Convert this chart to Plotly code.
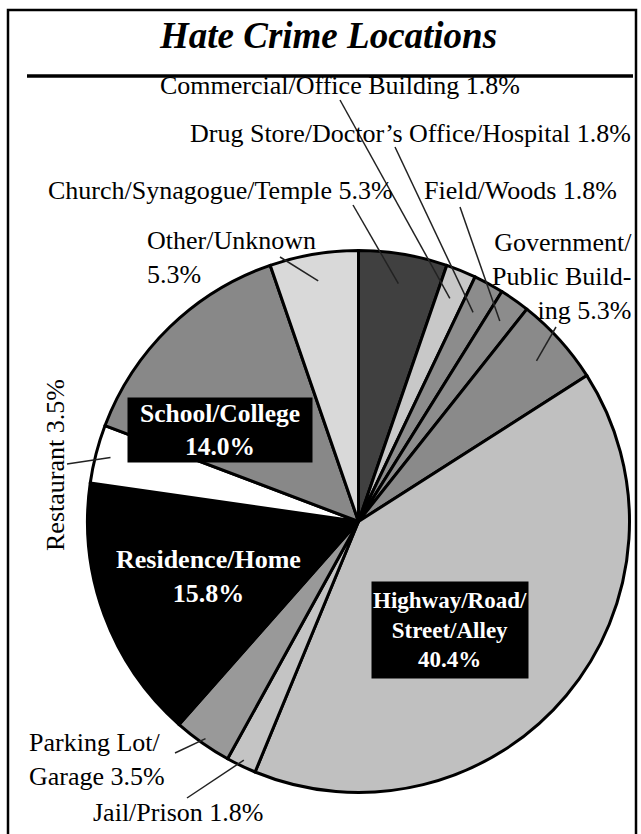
import math
import plotly.graph_objects as go

# ---------------- data ----------------
categories = [
    "Church/Synagogue/Temple",
    "Commercial/Office Building",
    "Drug Store/Doctor’s Office/Hospital",
    "Field/Woods",
    "Government/Public Building",
    "Highway/Road/Street/Alley",
    "Jail/Prison",
    "Parking Lot/Garage",
    "Residence/Home",
    "Restaurant",
    "School/College",
    "Other/Unknown",
]
percent = [5.3, 1.8, 1.8, 1.8, 5.3, 40.4, 1.8, 3.5, 15.8, 3.5, 14.0, 5.3]

# label text templates ({} is replaced with the value)
label_text = [
    "Church/Synagogue/Temple {}%",
    "Commercial/Office Building {}%",
    "Drug Store/Doctor’s Office/Hospital {}%",
    "Field/Woods {}%",
    "Government/<br>Public Build-<br>ing {}%",
    "Highway/Road/<br>Street/Alley<br>{}%",
    "Jail/Prison {}%",
    "Parking Lot/<br>Garage {}%",
    "Residence/Home<br>{}%",
    "Restaurant {}%",
    "School/College<br>{}%",
    "Other/Unknown<br>{}%",
]

title_text = "Hate Crime Locations"

# ---------------- styles / layout ----------------
slice_colors = ["#404040", "#c8c8c8", "#8c8c8c", "#8c8c8c", "#8a8a8a", "#c0c0c0",
                "#c4c4c4", "#999999", "#000000", "#ffffff", "#888888", "#d9d9d9"]

W, H = 641, 834
CX, CY, R = 358.5, 521.5, 271.0
SERIF = "Liberation Serif, Times New Roman, serif"


def px(x):
    return x / W


def py(y):
    return 1 - y / H


# per-label placement: x, y (pixels), xanchor, align, style, leader start, leader radius fraction
place = [
    dict(x=220, y=190, xa="center", al="center", st="plain", lead=(353, 205), rf=0.89),
    dict(x=340, y=85, xa="center", al="center", st="plain", lead=(340, 100), rf=0.89),
    dict(x=410, y=133, xa="center", al="center", st="plain", lead=(395, 147), rf=0.88),
    dict(x=520, y=190, xa="center", al="center", st="plain", lead=(460, 207), rf=0.905),
    dict(x=634, y=277, xa="right", al="right", st="plain", lead=(556, 327), rf=0.885),
    dict(x=450, y=630, xa="center", al="center", st="box", w=156, h=96, fs=23, lead=None),
    dict(x=178, y=812, xa="center", al="center", st="plain", lead=(187, 798), rf=0.977),
    dict(x=27, y=759, xa="left", al="left", st="plain", lead=(175, 753), rf=0.98),
    dict(x=208, y=576, xa="center", al="center", st="bold", fs=26, lead=None),
    dict(x=55, y=465, xa="center", al="center", st="vert", lead=(67, 464), rf=0.945),
    dict(x=220, y=430, xa="center", al="center", st="box", w=184, h=64, fs=25.5, lead=None),
    dict(x=145, y=257, xa="left", al="left", st="plain", lead=(280, 257), rf=0.90),
]

total = sum(percent)

fig = go.Figure(go.Pie(
    labels=categories,
    values=percent,
    sort=False,
    direction="clockwise",
    rotation=0,
    marker=dict(colors=slice_colors, line=dict(color="black", width=3)),
    textinfo="none",
    hoverinfo="label+value",
    showlegend=False,
    domain=dict(x=[px(CX - R), px(CX + R)], y=[py(CY + R), py(CY - R)]),
))

annotations = []
shapes = []

cum = 0.0
for name, v, tmpl, p in zip(categories, percent, label_text, place):
    mid = (cum + v / 2) / total * 2 * math.pi
    cum += v
    text = tmpl.format(f"{v:.1f}")
    if p["st"] == "plain":
        annotations.append(dict(
            x=px(p["x"]), y=py(p["y"]), xref="paper", yref="paper",
            text=text, showarrow=False, xanchor=p["xa"], yanchor="middle",
            align=p["al"], font=dict(family=SERIF, size=26, color="black")))
    elif p["st"] == "vert":
        annotations.append(dict(
            x=px(p["x"]), y=py(p["y"]), xref="paper", yref="paper",
            text=text, showarrow=False, textangle=-90, xanchor="center", yanchor="middle",
            font=dict(family=SERIF, size=26, color="black")))
    elif p["st"] == "bold":
        annotations.append(dict(
            x=px(p["x"]), y=py(p["y"]), xref="paper", yref="paper",
            text=f"<b>{text}</b>", showarrow=False, xanchor="center", yanchor="middle",
            align="center", font=dict(family=SERIF, size=p["fs"], color="white")))
    else:  # box
        annotations.append(dict(
            x=px(p["x"]), y=py(p["y"]), xref="paper", yref="paper",
            text=f"<b>{text}</b>", showarrow=False, xanchor="center", yanchor="middle",
            align="center", bgcolor="black", width=p["w"], height=p["h"], borderpad=0,
            font=dict(family=SERIF, size=p["fs"], color="white")))
    if p["lead"] is not None:
        r = R * p["rf"]
        ex = CX + r * math.sin(mid)
        ey = CY - r * math.cos(mid)
        sx, sy = p["lead"]
        shapes.append(dict(type="line", xref="paper", yref="paper",
                           x0=px(sx), y0=py(sy), x1=px(ex), y1=py(ey),
                           line=dict(color="#222222", width=1.5)))

# title
annotations.append(dict(
    x=px(328), y=py(36), xref="paper", yref="paper", showarrow=False,
    text=f"<b><i>{title_text}</i></b>", xanchor="center", yanchor="middle",
    font=dict(family=SERIF, size=37, color="black")))

# frame & title rule
shapes.append(dict(type="rect", xref="paper", yref="paper",
                   x0=px(8), x1=px(636), y0=py(840), y1=py(10),
                   line=dict(color="black", width=2.5), layer="below"))
shapes.append(dict(type="line", xref="paper", yref="paper",
                   x0=px(27), x1=px(633), y0=py(76), y1=py(76),
                   line=dict(color="black", width=3.5)))

fig.update_layout(
    width=W, height=H,
    margin=dict(l=0, r=0, t=0, b=0),
    paper_bgcolor="white",
    plot_bgcolor="white",
    annotations=annotations,
    shapes=shapes,
)

fig.write_html(
    "out.html",
    config={"displayModeBar": False},
    post_script="document.body.style.margin='0';document.body.style.overflow='hidden';",
)
